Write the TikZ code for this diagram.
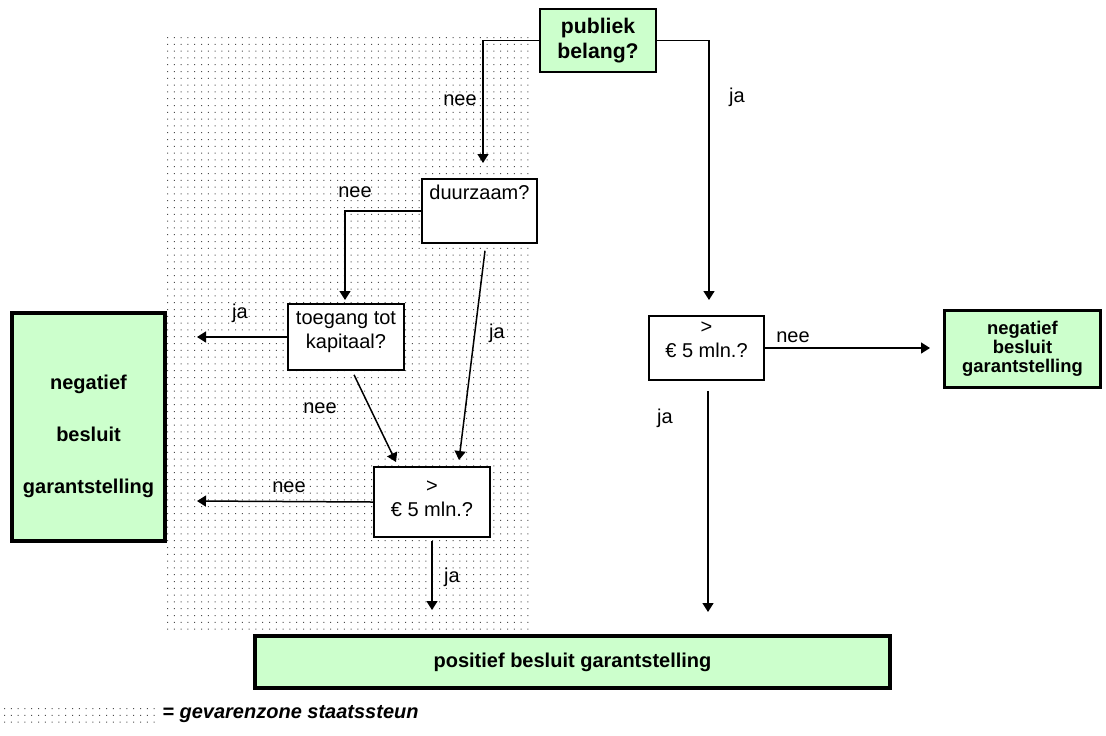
\documentclass[tikz,border=0pt]{standalone}
\usepackage{fontspec}
\setmainfont{Liberation Sans}
\usetikzlibrary{arrows.meta}
\definecolor{lgreen}{HTML}{CCFFCC}
\definecolor{dotc}{gray}{0.3}
\begin{document}
\begin{tikzpicture}[x=0.5pt,y=-0.5pt,
  font=\fontsize{10}{12}\selectfont,
  arr/.style={line width=0.75pt,-{Triangle[length=4.5pt,width=5.5pt]}},
  qbox/.style={draw,line width=0.75pt,fill=white,inner sep=0pt},
  intext/.style={inner sep=0pt,align=center,anchor=north},
  gbox/.style={draw,fill=lgreen,inner sep=0pt,align=center,font=\fontsize{10}{12}\selectfont\bfseries},
  lbl/.style={inner sep=0pt}]
\useasboundingbox (0,0) rectangle (1106,735);
% dotted danger zone
\fill[dotc] \foreach \i in {0,...,53} {\foreach \j in {0,...,87} {(167+\i*6.8,37+\j*6.8) rectangle ++(1,1)}};
% legend dots
\fill[dotc] \foreach \i in {0,...,22} {\foreach \j in {0,...,2} {(4+\i*6.8,708+\j*6.8) rectangle ++(1,1)}};

% nodes
\node[gbox,line width=0.75pt,minimum width=58pt,minimum height=31.5pt,
      font=\fontsize{10.6}{12.5}\selectfont\bfseries] (pub) at (598,40.5) {publiek\\belang?};
\node[qbox,minimum width=57.5pt,minimum height=32pt,
      label={[intext,yshift=-3pt]north:duurzaam?}] (duur) at (479.5,211) {};
\node[qbox,minimum width=58pt,minimum height=33pt,
      label={[intext,yshift=-4pt]north:toegang tot\\kapitaal?}] (toeg) at (346,337) {};
\node[qbox,minimum width=58pt,minimum height=35pt,
      label={[intext,yshift=-7pt]north:>\\€ 5 mln.?}] (eurL) at (432,502) {};
\node[qbox,minimum width=57.5pt,minimum height=32pt,
      label={[intext,yshift=-3pt]north:>\\€ 5 mln.?}] (eurR) at (706.5,348) {};
\node[gbox,line width=2pt,minimum width=76.5pt,minimum height=114pt,
      label={[lbl,align=center,anchor=center,yshift=-4.5pt,font=\fontsize{10}{12}\selectfont\bfseries]center:negatief\\[14pt]besluit\\[14pt]garantstelling}]
      (negL) at (88.5,427) {};
\node[gbox,line width=1.5pt,minimum width=78pt,minimum height=38.5pt,
      font=\fontsize{9.2}{9.4}\selectfont\bfseries] (negR) at (1022.5,349)
      {negatief\\besluit\\garantstelling};
\node[gbox,line width=2pt,minimum width=317.5pt,minimum height=26pt] (pos) at (572.5,662)
      {positief besluit garantstelling};

% arrow end points
\coordinate (a1) at (483,163);
\coordinate (a2) at (709,300);
\coordinate (a3) at (345,300);
\coordinate (a4) at (197,337);
\coordinate (a5) at (396,462);
\coordinate (a6) at (459,460);
\coordinate (a7) at (197,501);
\coordinate (a8) at (432,610);
\coordinate (a9) at (930,348);
\coordinate (a10) at (708,612);

% connectors
\draw[arr] (pub.west) -| (a1);
\draw[arr] (pub.east) -| (a2);
\draw[arr] (duur.west) -| (a3);
\draw[arr] (toeg.west) -- (a4);
\draw[arr] ([shift={(8,4)}]toeg.south) -- (a5);
\draw[arr] ([shift={(5.5,7)}]duur.south) -- (a6);
\draw[arr] (eurL.west) -- (a7);
\draw[arr] ([shift={(0,3)}]eurL.south) -- (a8);
\draw[arr] (eurR.east) -- (a9);
\draw[arr] ([shift={(1.5,10)}]eurR.south) -- (a10);

% labels
\node[lbl] (l1) at (460,100) {nee};
\node[lbl] (l2) at (737,97) {ja};
\node[lbl] (l3) at (355,192) {nee};
\node[lbl] (l4) at (240,313) {ja};
\node[lbl] (l5) at (497,333) {ja};
\node[lbl] (l6) at (320,408) {nee};
\node[lbl] (l7) at (289,487) {nee};
\node[lbl] (l8) at (452,577) {ja};
\node[lbl] (l9) at (793,337) {nee};
\node[lbl] (l10) at (665,418) {ja};

% legend
\node[lbl,anchor=west,font=\fontsize{10}{12}\selectfont\bfseries\itshape] (leg) at (162,714)
      {= gevarenzone staatssteun};
\end{tikzpicture}
\end{document}
